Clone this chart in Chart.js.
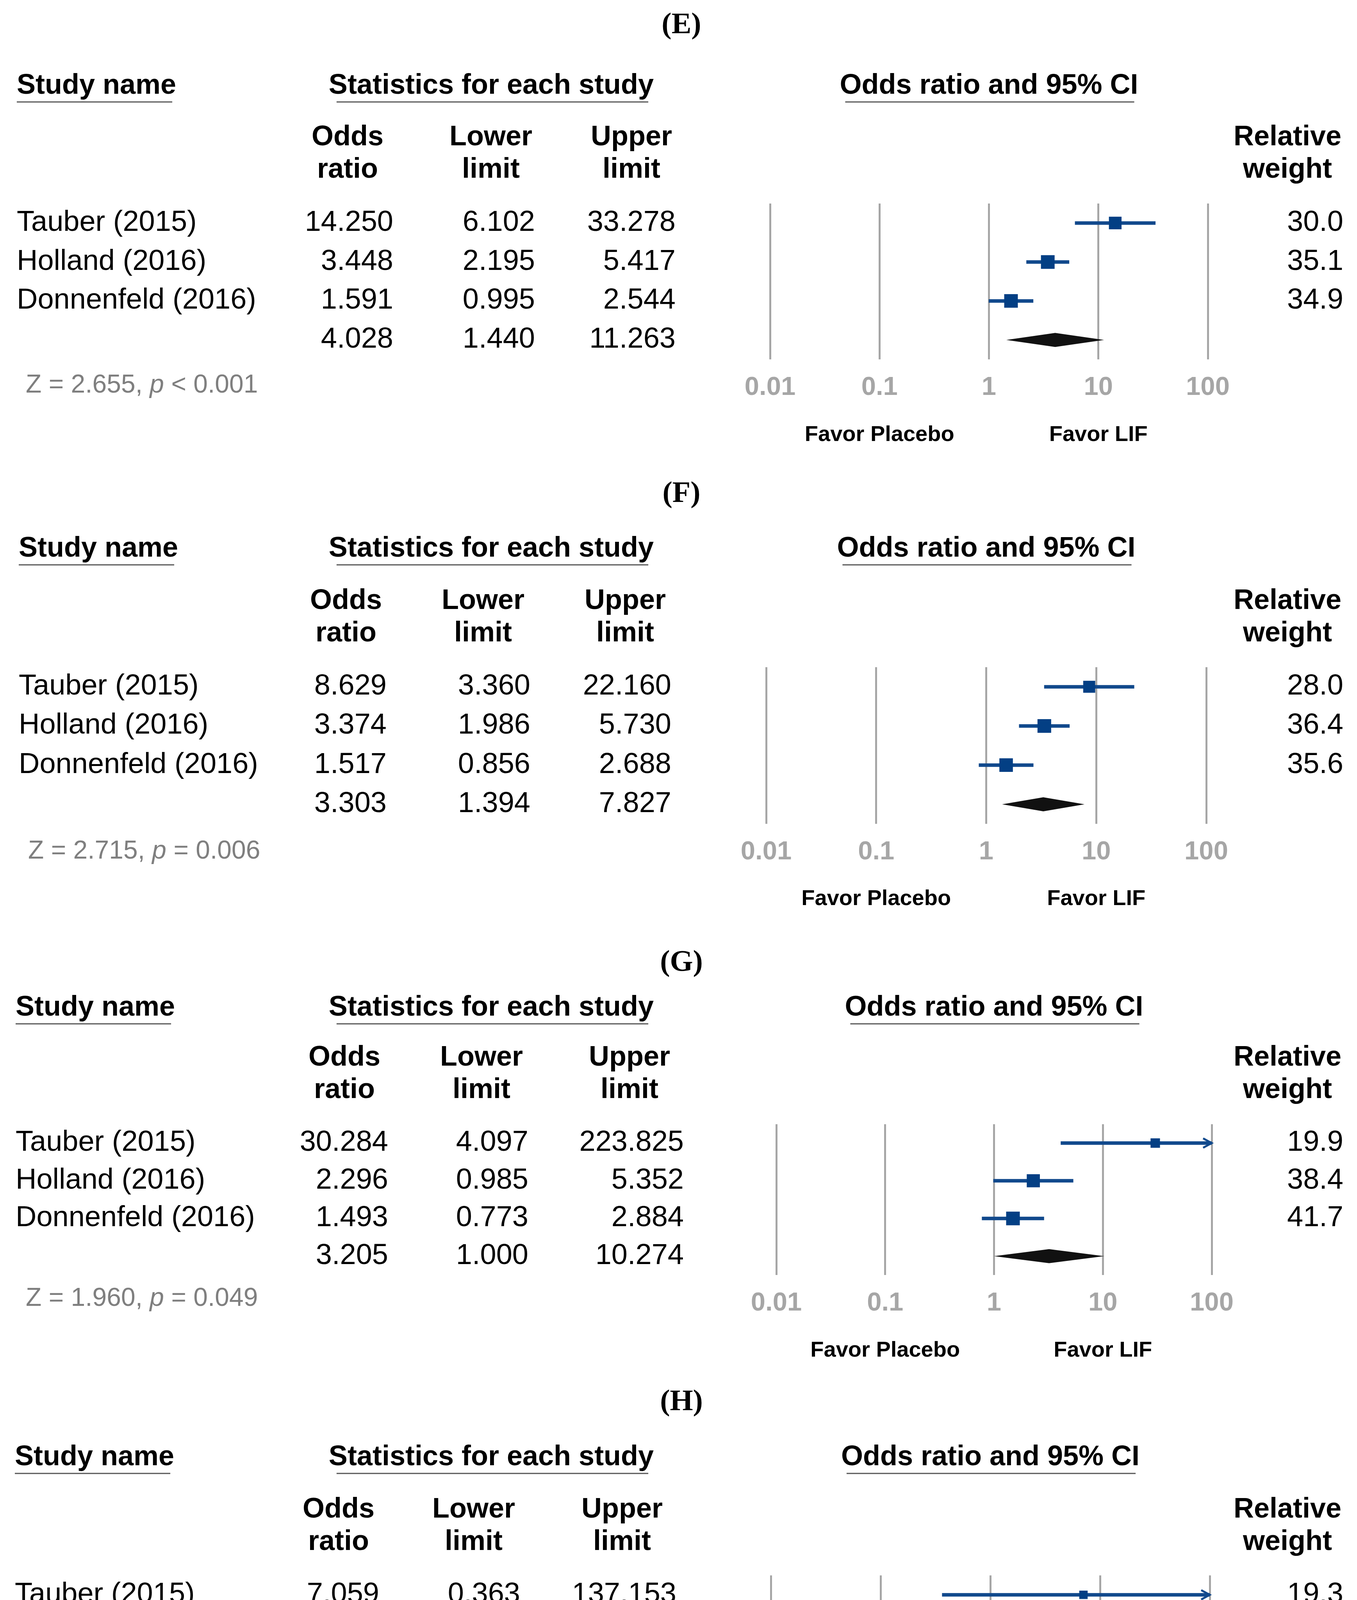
<!DOCTYPE html>
<html>
<head>
<meta charset="utf-8">
<script src="https://cdn.jsdelivr.net/npm/chart.js@4.4.1/dist/chart.umd.min.js"></script>
<style>
html, body { margin: 0; padding: 0; background: #fff; }
#page { position: relative; width: 3475px; height: 4691px; background: #fff; }
#page canvas { position: absolute; left: 0; }
</style>
</head>
<body>
<div id="page"></div>
<script>
// ---- data ----
var studyNames = ["Tauber (2015)", "Holland (2016)", "Donnenfeld (2016)"];
var panelTags = ["(E)", "(F)", "(G)", "(H)"];
var axisTicks = [0.01, 0.1, 1, 10, 100];
var axisTickLabels = ["0.01", "0.1", "1", "10", "100"];

var oddsE = [14.250, 3.448, 1.591];
var lowerE = [6.102, 2.195, 0.995];
var upperE = [33.278, 5.417, 2.544];
var weightE = [30.0, 35.1, 34.9];
var summaryE = [4.028, 1.440, 11.263]; // odds, lower, upper
var zE = "2.655", pE = "< 0.001";

var oddsF = [8.629, 3.374, 1.517];
var lowerF = [3.360, 1.986, 0.856];
var upperF = [22.160, 5.730, 2.688];
var weightF = [28.0, 36.4, 35.6];
var summaryF = [3.303, 1.394, 7.827];
var zF = "2.715", pF = "= 0.006";

var oddsG = [30.284, 2.296, 1.493];
var lowerG = [4.097, 0.985, 0.773];
var upperG = [223.825, 5.352, 2.884];
var weightG = [19.9, 38.4, 41.7];
var summaryG = [3.205, 1.000, 10.274];
var zG = "1.960", pG = "= 0.049";

var oddsH = [7.059, 6.034, 0.833];
var lowerH = [0.363, 0.723, 0.295];
var upperH = [137.153, 50.380, 2.355];
var weightH = [19.3, 29.5, 51.2];
var summaryH = [2.259, 0.481, 10.616];
var zH = "1.032", pH = "= 0.302";

var panels = [
  { odds: oddsE, lower: lowerE, upper: upperE, weight: weightE, summary: summaryE, z: zE, p: pE },
  { odds: oddsF, lower: lowerF, upper: upperF, weight: weightF, summary: summaryF, z: zF, p: pF },
  { odds: oddsG, lower: lowerG, upper: upperG, weight: weightG, summary: summaryG, z: zG, p: pG },
  { odds: oddsH, lower: lowerH, upper: upperH, weight: weightH, summary: summaryH, z: zH, p: pH }
];

// ---- layout (page pixels, local to each panel) ----
var panelTop   = [0, 1187, 2356, 3513];
var panelH     = [1187, 1169, 1157, 1178];
var plotTop    = [521, 521, 522, 520];
var plotBottom = [920, 922, 908, 918];
var plotLeft   = [1972, 1962, 1988, 1974];
var plotRight  = [3093, 3089, 3103, 3098];
var nameLeft   = [43, 48, 40, 38];
var headBase   = [240, 238, 244, 238];
var colCenter  = [[890, 1257, 1617], [886, 1237, 1601], [882, 1233, 1612], [867, 1213, 1593]];
var colRight   = [[1007, 1370, 1730], [990, 1358, 1719], [994, 1353, 1751], [971, 1332, 1732]];
var zLeft      = [66, 72, 66, 63];
var zBase      = [1005, 1011, 987, 1001];
var favorBase  = [1129, 1130, 1117, 1127];
var tagBase    = [85, 98, 129, 97];

var SANS = '"Liberation Sans", Arial, sans-serif';
var SERIF = '"Liberation Serif", "Times New Roman", serif';
var TICK_FONT = 67, TICK_PAD = 32;
var BLUE_SQ = '#033f84', BLUE_LINE = '#11498c';

function put(ctx, s, x, y, font, color, align) {
  ctx.font = font;
  ctx.fillStyle = color;
  ctx.textAlign = align || 'left';
  ctx.textBaseline = 'alphabetic';
  ctx.fillText(s, x, y);
  return ctx.measureText(s).width;
}

function rule(ctx, x0, x1, y) {
  ctx.save();
  ctx.strokeStyle = '#555';
  ctx.lineWidth = 3;
  ctx.beginPath();
  ctx.moveTo(x0, y);
  ctx.lineTo(x1, y);
  ctx.stroke();
  ctx.restore();
}

function makeForestPlugin(k) {
  var d = panels[k];
  return {
    id: 'forest' + k,
    afterDatasetsDraw: function (chart) {
      var ctx = chart.ctx, xs = chart.scales.x, ys = chart.scales.y;
      ctx.save();
      // summary diamond
      var yd = ys.getPixelForValue(3);
      ctx.fillStyle = '#111';
      ctx.beginPath();
      ctx.moveTo(xs.getPixelForValue(d.summary[1]), yd);
      ctx.lineTo(xs.getPixelForValue(d.summary[0]), yd - 18);
      ctx.lineTo(xs.getPixelForValue(d.summary[2]), yd);
      ctx.lineTo(xs.getPixelForValue(d.summary[0]), yd + 18);
      ctx.closePath();
      ctx.fill();
      // arrows where the interval runs past the axis
      ctx.strokeStyle = BLUE_LINE;
      ctx.lineWidth = 5;
      for (var i = 0; i < d.upper.length; i++) {
        if (d.upper[i] > xs.max) {
          var xa = xs.getPixelForValue(xs.max), ya = ys.getPixelForValue(i);
          ctx.beginPath();
          ctx.moveTo(xa - 22, ya - 12);
          ctx.lineTo(xa, ya);
          ctx.lineTo(xa - 22, ya + 12);
          ctx.stroke();
        }
      }
      ctx.restore();
    },
    afterDraw: function (chart) {
      var ctx = chart.ctx, xs = chart.scales.x, ys = chart.scales.y;
      var hb = headBase[k], w;
      var bold72 = 'bold 72px ' + SANS, reg74 = '74px ' + SANS;
      ctx.save();

      put(ctx, panelTags[k], 1745, tagBase[k], 'bold 76px ' + SERIF, '#000', 'center');

      // headings with rules
      w = put(ctx, 'Study name', nameLeft[k], hb, bold72, '#000', 'left');
      rule(ctx, nameLeft[k], nameLeft[k] + w - 10, hb + 21);
      w = put(ctx, 'Statistics for each study', 1258, hb, bold72, '#000', 'center');
      rule(ctx, 1258 - w / 2 + 20, 1258 + w / 2 - 14, hb + 21);
      var cx = xs.getPixelForValue(1);
      w = put(ctx, 'Odds ratio and 95% CI', cx, hb, bold72, '#000', 'center');
      rule(ctx, cx - w / 2 + 14, cx + w / 2 - 10, hb + 21);

      // column headers
      var heads = [['Odds', 'ratio'], ['Lower', 'limit'], ['Upper', 'limit']];
      for (var c = 0; c < 3; c++) {
        put(ctx, heads[c][0], colCenter[k][c], 372, bold72, '#000', 'center');
        put(ctx, heads[c][1], colCenter[k][c], 455, bold72, '#000', 'center');
      }
      put(ctx, 'Relative', 3297, 372, bold72, '#000', 'center');
      put(ctx, 'weight', 3297, 455, bold72, '#000', 'center');

      // study rows
      for (var i = 0; i < studyNames.length; i++) {
        var yb = ys.getPixelForValue(i) + 20;
        put(ctx, studyNames[i], nameLeft[k], yb, reg74, '#000', 'left');
        put(ctx, d.odds[i].toFixed(3), colRight[k][0], yb, reg74, '#000', 'right');
        put(ctx, d.lower[i].toFixed(3), colRight[k][1], yb, reg74, '#000', 'right');
        put(ctx, d.upper[i].toFixed(3), colRight[k][2], yb, reg74, '#000', 'right');
        put(ctx, d.weight[i].toFixed(1), 3440, yb, reg74, '#000', 'right');
      }
      // pooled row
      var ys3 = ys.getPixelForValue(3) + 20;
      for (var s = 0; s < 3; s++) {
        put(ctx, d.summary[s].toFixed(3), colRight[k][s], ys3, reg74, '#000', 'right');
      }

      // test statistic
      var zx = zLeft[k], reg66 = '66px ' + SANS;
      zx += put(ctx, 'Z = ' + d.z + ', ', zx, zBase[k], reg66, '#7f7f7f', 'left');
      zx += put(ctx, 'p', zx, zBase[k], 'italic 66px ' + SANS, '#7f7f7f', 'left');
      put(ctx, ' ' + d.p, zx, zBase[k], reg66, '#7f7f7f', 'left');

      // direction labels
      put(ctx, 'Favor Placebo', xs.getPixelForValue(0.1), favorBase[k], 'bold 56px ' + SANS, '#000', 'center');
      put(ctx, 'Favor LIF', xs.getPixelForValue(10), favorBase[k], 'bold 56px ' + SANS, '#000', 'center');
      ctx.restore();
    }
  };
}

var page = document.getElementById('page');

panels.forEach(function (d, k) {
  var canvas = document.createElement('canvas');
  canvas.width = 3475;
  canvas.height = panelH[k];
  canvas.style.top = panelTop[k] + 'px';
  page.appendChild(canvas);

  var maxW = Math.max.apply(null, d.weight);
  var squares = {
    type: 'scatter',
    data: d.odds.map(function (v, i) { return { x: v, y: i }; }),
    pointStyle: 'rect',
    pointRadius: d.weight.map(function (wt) { return 35 * Math.sqrt(wt / maxW) / Math.SQRT2; }),
    backgroundColor: BLUE_SQ,
    borderWidth: 0,
    clip: 0
  };
  var intervals = d.odds.map(function (v, i) {
    return {
      type: 'line',
      data: [{ x: d.lower[i], y: i }, { x: d.upper[i], y: i }],
      borderColor: BLUE_LINE,
      borderWidth: 9,
      pointRadius: 0,
      clip: 0
    };
  });

  new Chart(canvas, {
    type: 'scatter',
    data: { datasets: [squares].concat(intervals) },
    options: {
      responsive: false,
      animation: false,
      devicePixelRatio: 1,
      layout: {
        padding: {
          left: plotLeft[k],
          right: 3475 - plotRight[k],
          top: plotTop[k],
          bottom: panelH[k] - plotBottom[k] - (TICK_FONT * 1.2 + 2 * TICK_PAD)
        }
      },
      plugins: { legend: { display: false }, tooltip: { enabled: false } },
      scales: {
        x: {
          type: 'logarithmic',
          min: 0.01,
          max: 100,
          afterBuildTicks: function (scale) {
            scale.ticks = axisTicks.map(function (v) { return { value: v }; });
          },
          ticks: {
            autoSkip: false,
            maxRotation: 0,
            padding: TICK_PAD,
            color: '#a6a6a6',
            font: { family: SANS, size: TICK_FONT, weight: 'bold' },
            callback: function (v, i) { return axisTickLabels[i]; }
          },
          grid: { color: '#a6a6a6', lineWidth: 5, drawTicks: false },
          border: { display: false }
        },
        y: { type: 'linear', min: -0.5, max: 3.5, reverse: true, display: false }
      }
    },
    plugins: [makeForestPlugin(k)]
  });
});
</script>
</body>
</html>
